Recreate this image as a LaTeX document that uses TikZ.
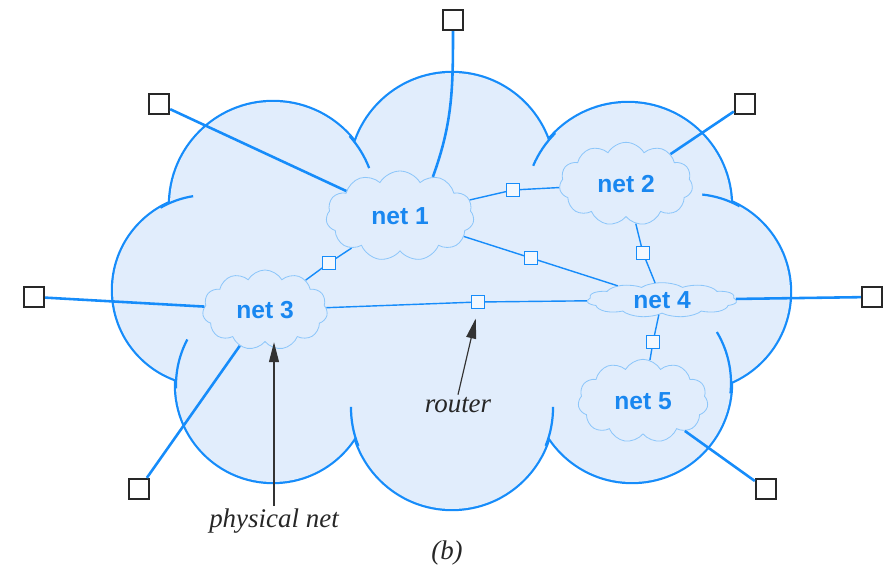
\documentclass[tikz,border=0pt]{standalone}
\usepackage{fontspec}
\setmainfont{Liberation Serif}
\setsansfont{Liberation Sans}
\usetikzlibrary{shapes.symbols,arrows.meta}
\definecolor{skyfill}{RGB}{225,237,252}
\definecolor{skyline}{RGB}{22,140,250}
\definecolor{netedge}{RGB}{140,198,250}
\definecolor{nettext}{RGB}{25,135,240}
\definecolor{hostedge}{RGB}{40,40,40}

\tikzset{
  net/.style={cloud,cloud puffs=11,cloud puff arc=120,cloud ignores aspect,
    draw=netedge,fill=skyfill,line width=0.7pt,inner sep=0pt},
  netname/.style={text=nettext,font=\sffamily\bfseries\fontsize{21}{25}\selectfont},
  host/.style={draw=hostedge,fill=white,line width=2pt,minimum size=0.6cm,inner sep=0pt},
  router/.style={draw=skyline,fill=skyfill!40!white,line width=0.8pt,minimum size=0.38cm,inner sep=0pt},
  hostlink/.style={skyline,line width=2.2pt},
  netlink/.style={skyline,line width=1.2pt},
  note/.style={font=\itshape\fontsize{23}{27}\selectfont,text=black!85,inner sep=2pt},
  pointer/.style={black!80,line width=1pt,-{Triangle[length=0.6cm,width=0.3cm]}}
}

\begin{document}
\begin{tikzpicture}[x=0.03cm,y=0.03cm]
  \useasboundingbox (0,0) rectangle (893,-568);
  \def\bumps{208/290/95,273/205/103,452/175/102,628/206/103,692/292/98,632/383/99,452/408/101,273/385/97}
  % the big cloud: stroke every bump, then fill over the inner half
  \foreach \cx/\cy/\r in \bumps
    \draw[skyline,line width=3.8pt] (\cx,-\cy) circle[radius=\r];
  \foreach \cx/\cy/\r in \bumps
    \fill[skyfill] (\cx,-\cy) circle[radius=\r];
  \fill[skyfill] (208,-290) -- (273,-205) -- (452,-175) -- (628,-206)
    -- (692,-292) -- (632,-383) -- (452,-408) -- (273,-385) -- cycle;
  % short arcs running on into the cloud
  \foreach \cx/\cy/\r/\a/\b in {208/290/95/-240/-261,273/205/103/-318/-339,
      628/206/103/-225/-203,692/292/98/-299/-276,632/383/99/-6/31,
      452/408/101/-22/0.6,452/408/101/-158/-180.6,273/385/97/-178/-208}
    \draw[skyline,line width=1.9pt] (\cx,-\cy) ++(\a:\r) arc[start angle=\a,end angle=\b,radius=\r];

  % physical nets
  \coordinate (c4) at (662,-300);
  \node[net,minimum width=4.44cm,minimum height=2.7cm] (n1) at (400,-216) {};
  \node[net,minimum width=4.0cm,minimum height=2.5cm] (n2) at (626,-184) {};
  \node[net,minimum width=3.75cm,minimum height=2.4cm] (n3) at (265,-310) {};
  \node[net,minimum width=4.5cm,minimum height=2.6cm,yscale=0.4,transform shape] (n4) at (c4) {};
  \node[net,minimum width=3.9cm,minimum height=2.5cm] (n5) at (643,-401) {};
  \node[netname] (t1) at (n1) {net 1};
  \node[netname] (t2) at (n2) {net 2};
  \node[netname] (t3) at (n3) {net 3};
  \node[netname] (t4) at (n4) {net 4};
  \node[netname] (t5) at (n5) {net 5};

  % routers
  \node[router] (r12) at (513,-190) {};
  \node[router] (r13) at (329,-263) {};
  \node[router] (r14) at (531,-258) {};
  \node[router] (r24) at (643,-253) {};
  \node[router] (r34) at (478,-302) {};
  \node[router] (r45) at (653,-342) {};

  % hosts
  \node[host] (hT) at (453,-20) {};
  \node[host] (hTL) at (159,-104) {};
  \node[host] (hTR) at (745,-104) {};
  \node[host] (hL) at (34,-297) {};
  \node[host] (hR) at (872,-297) {};
  \node[host] (hBL) at (139,-489) {};
  \node[host] (hBR) at (766,-489) {};

  \draw[hostlink] (hT) to[out=-90,in=70] (n1.50);
  \draw[hostlink] (hTL) -- (n1);
  \draw[hostlink] (hTR) -- (n2);
  \draw[hostlink] (hL) -- (n3);
  \draw[hostlink] (hR) -- (n4);
  \draw[hostlink] (hBL) -- (n3);
  \draw[hostlink] (hBR) -- (n5);

  \draw[netlink] (n1) -- (r12) -- (n2);
  \draw[netlink] (n1) -- (r13) -- (n3);
  \draw[netlink] (n1) -- (r14) -- (n4);
  \draw[netlink] (n2) -- (r24) -- (n4);
  \draw[netlink] (n3) -- (r34) -- (n4);
  \draw[netlink] (n4) -- (r45) -- (n5);

  % labels
  \node[note] (lrouter) at (458,-405) {router};
  \node[note] (lphys) at (274,-521) {physical net};
  \node[note] (lfig) at (447,-553) {(b)};
  \draw[pointer,shorten >=0.3cm] (lrouter.north) -- (r34.south);
  \draw[pointer] (lphys.north) -- (lphys.north |- n3.south);
\end{tikzpicture}
\end{document}
